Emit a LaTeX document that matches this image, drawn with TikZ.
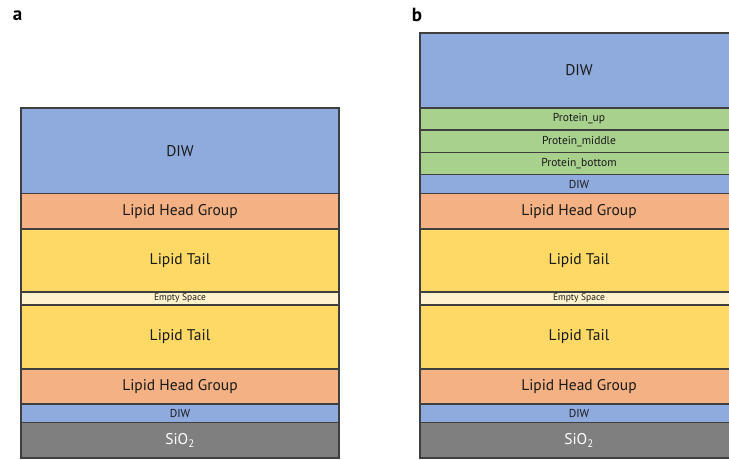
\documentclass[tikz,border=0pt]{standalone}
\usepackage{fontspec}
\setmainfont{PT Sans}
\definecolor{diw}{HTML}{8FAADC}
\definecolor{head}{HTML}{F4B183}
\definecolor{tail}{HTML}{FFD966}
\definecolor{empty}{HTML}{FFF2CC}
\definecolor{prot}{HTML}{A9D18E}
\definecolor{sio}{HTML}{7F7F7F}
\definecolor{edge}{HTML}{3F3F3F}
\tikzset{
  layer/.style={draw=edge, line width=1.1pt, anchor=north west, minimum width=318pt, inner sep=0pt, outer sep=0pt, text=black!90},
  big/.style={font=\fontsize{15.5}{16}\selectfont},
  small/.style={font=\fontsize{11.5}{12}\selectfont},
  tiny/.style={font=\fontsize{9.5}{10}\selectfont},
  panel/.style={font=\bfseries\fontsize{19}{20}\selectfont, inner sep=0pt}
}
\begin{document}
\begin{tikzpicture}[x=1pt,y=-1pt]
\useasboundingbox (0,0) rectangle (729,460);
\clip (0,0) rectangle (729,460);
\node[panel] (la) at (17.5,16) {a};
\node[panel] (lb) at (417,15) {b};
% panel a
\node[layer, big, fill=diw, minimum height=85.5pt] (a1) at (21,108) {DIW};
\node[layer, big, fill=head, minimum height=35.5pt] (a2) at (21,193.5) {Lipid Head Group};
\node[layer, big, fill=tail, minimum height=63pt] (a3) at (21,229) {Lipid Tail};
\node[layer, tiny, fill=empty, minimum height=13pt] (a4) at (21,292) {Empty Space};
\node[layer, big, fill=tail, minimum height=64pt] (a5) at (21,305) {Lipid Tail};
\node[layer, big, fill=head, minimum height=35pt] (a6) at (21,369) {Lipid Head Group};
\node[layer, small, fill=diw, minimum height=18.5pt] (a7) at (21,404) {DIW};
\node[layer, big, fill=sio, text=white, minimum height=35.5pt] (a8) at (21,422.5) {SiO\textsubscript{2}};
% panel b
\node[layer, big, fill=diw, minimum height=75pt] (b1) at (420,33) {DIW};
\node[layer, small, fill=prot, minimum height=22pt] (b2) at (420,108) {Protein\_up};
\node[layer, small, fill=prot, minimum height=22.5pt] (b3) at (420,130) {Protein\_middle};
\node[layer, small, fill=prot, minimum height=22pt] (b4) at (420,152.5) {Protein\_bottom};
\node[layer, small, fill=diw, minimum height=19pt] (b5) at (420,174.5) {DIW};
\node[layer, big, fill=head, minimum height=35.5pt] (b6) at (420,193.5) {Lipid Head Group};
\node[layer, big, fill=tail, minimum height=63pt] (b7) at (420,229) {Lipid Tail};
\node[layer, tiny, fill=empty, minimum height=13pt] (b8) at (420,292) {Empty Space};
\node[layer, big, fill=tail, minimum height=64pt] (b9) at (420,305) {Lipid Tail};
\node[layer, big, fill=head, minimum height=35pt] (b10) at (420,369) {Lipid Head Group};
\node[layer, small, fill=diw, minimum height=18.5pt] (b11) at (420,404) {DIW};
\node[layer, big, fill=sio, text=white, minimum height=35.5pt] (b12) at (420,422.5) {SiO\textsubscript{2}};
\end{tikzpicture}
\end{document}
